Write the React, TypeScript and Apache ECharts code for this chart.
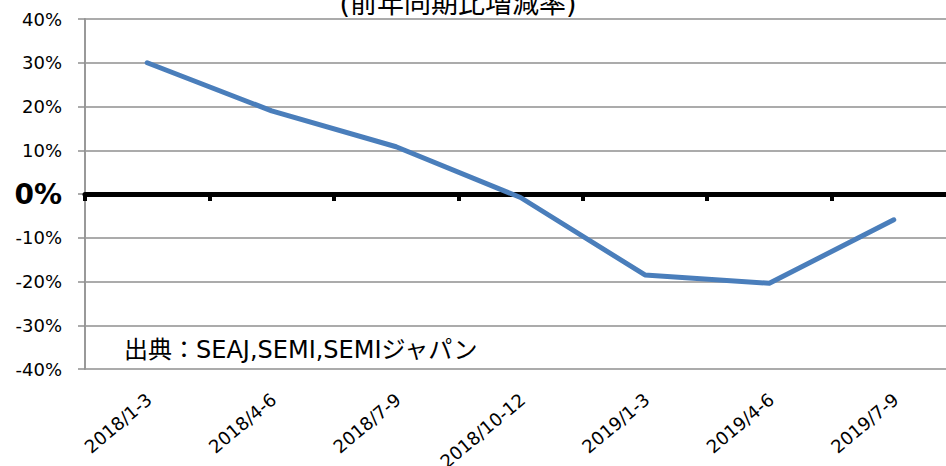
import React, { useEffect, useRef } from "react";
import * as echarts from "echarts";

const categories = ["2018/1-3", "2018/4-6", "2018/7-9", "2018/10-12", "2019/1-3", "2019/4-6", "2019/7-9"];
const changeRates = [30, 19.0, 10.8, -0.8, -18.5, -20.4, -5.9];
const yMin = -40;
const yMax = 40;
const yStep = 10;
const titleText = "(前年同期比増減率)";
const sourceText = "出典：SEAJ,SEMI,SEMIジャパン";

const FONT = '"DejaVu Sans", "Noto Sans CJK JP", sans-serif';

export default function App() {
  const ref = useRef<HTMLDivElement>(null);
  useEffect(() => {
    if (!ref.current) return;
    const chart = echarts.init(ref.current, null, { renderer: "svg" });
    const option: any = {
      animation: false,
      backgroundColor: "#ffffff",
      grid: [
        { left: 85, top: 19, width: 871, height: 350, containLabel: false, outerBoundsMode: "none" },
        { left: 87, top: 19, width: 871, height: 350, containLabel: false, outerBoundsMode: "none" },
      ],
      xAxis: [
        {
          type: "category",
          gridIndex: 0,
          data: categories,
          boundaryGap: true,
          z: 1,
          axisLine: { show: true, onZero: true, lineStyle: { color: "#000000", width: 5 } },
          axisTick: { show: true, length: 7, lineStyle: { color: "#000000", width: 4 } },
          axisLabel: { show: false },
          splitLine: { show: false },
        },
        {
          type: "category",
          gridIndex: 1,
          data: categories,
          boundaryGap: true,
          axisLine: { show: false },
          axisTick: { show: false },
          splitLine: { show: false },
          axisLabel: {
            interval: 0,
            rotate: 40,
            margin: 28,
            fontFamily: FONT,
            fontSize: 18,
            color: "#000000",
          },
        },
      ],
      yAxis: [
        {
          type: "value",
          gridIndex: 0,
          min: yMin,
          max: yMax,
          interval: yStep,
          axisLine: { show: true, lineStyle: { color: "#999999", width: 2 } },
          axisTick: { show: true, length: 7, lineStyle: { color: "#8f8f8f", width: 1.5 } },
          splitLine: { show: true, lineStyle: { color: "#8f8f8f", width: 1.5 } },
          axisLabel: {
            margin: 23,
            fontFamily: FONT,
            fontSize: 18,
            color: "#000000",
            formatter: (v: number) => (v === 0 ? "{z|0%}" : `${v}%`),
            rich: {
              z: { fontFamily: FONT, fontSize: 28, fontWeight: "bold", color: "#000000" },
            },
          },
        },
        { type: "value", gridIndex: 1, min: yMin, max: yMax, interval: yStep, show: false },
      ],
      series: [
        {
          type: "line",
          xAxisIndex: 0,
          yAxisIndex: 0,
          data: changeRates,
          symbol: "none",
          z: 3,
          lineStyle: { color: "#4A7EBB", width: 5, cap: "round", join: "round" },
        },
      ],
      graphic: [
        {
          type: "text",
          x: 458,
          y: 3,
          z: 10,
          style: {
            text: titleText,
            fontFamily: FONT,
            fontSize: 27,
            fill: "#000000",
            align: "center",
            verticalAlign: "middle",
          },
        },
        {
          type: "text",
          x: 124,
          y: 350,
          z: 10,
          style: {
            text: sourceText,
            fontFamily: FONT,
            fontSize: 24,
            fill: "#000000",
            align: "left",
            verticalAlign: "middle",
          },
        },
      ],
    };
    chart.setOption(option);
    return () => chart.dispose();
  }, []);
  return (
    <div
      ref={ref}
      style={{ position: "fixed", left: 0, top: 0, width: 946, height: 466, background: "#fff" }}
    />
  );
}
